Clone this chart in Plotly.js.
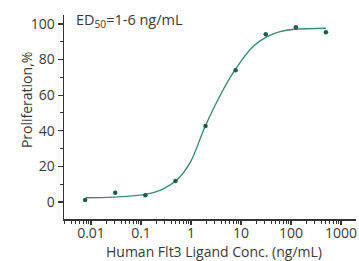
<!DOCTYPE html>
<html>
<head>
<meta charset="utf-8">
<script src="https://cdn.plot.ly/plotly-3.0.1.min.js"></script>
<style>html,body{margin:0;padding:0;background:#fff}#chart{width:359px;height:261px}</style>
</head>
<body>
<div id="chart"></div>
<script>
// Measured points
const concX = [0.00763, 0.0305, 0.122, 0.488, 1.95, 7.81, 31.25, 125, 500];
const prolifY = [1.1, 5.2, 3.9, 11.8, 42.7, 74.0, 94.2, 98.1, 95.3];
// Fitted curve
const curveX = [0.00783, 0.0275, 0.120, 0.275, 0.525, 0.955, 1.905, 4.37, 7.59, 17.4, 33.1, 60.3, 120, 501];
const curveY = [2.4, 2.8, 4.3, 7.3, 12.5, 22.0, 42.3, 62.9, 74.2, 87.3, 92.9, 95.7, 97.0, 97.6];
// Tick labels
const xTickVals = [0.01, 0.1, 1, 10, 100, 1000];
const xTickText = ['0.01', '0.1', '1', '10', '100', '1000'];
const yTickVals = [0, 20, 40, 60, 80, 100];

const FONT = 'Open Sans, sans-serif';
const TXT = '#3a3a3a';
const AX = '#333333';

const traces = [
  {x: curveX, y: curveY, type: 'scatter', mode: 'lines',
   line: {color: '#3a8a76', width: 1.4, shape: 'spline', smoothing: 1}, hoverinfo: 'skip'},
  {x: concX, y: prolifY, type: 'scatter', mode: 'markers',
   marker: {color: '#1f5c4c', size: 4.5}}
];

const layout = {
  width: 359, height: 261,
  margin: {l: 64, r: 3, t: 15, b: 42},
  paper_bgcolor: '#fff', plot_bgcolor: '#fff',
  showlegend: false,
  font: {family: FONT, color: TXT, size: 14},
  xaxis: {
    type: 'log', range: [-2.54, 3.3],
    tickmode: 'array', tickvals: xTickVals, ticktext: xTickText,
    ticks: 'outside', ticklen: 4, tickwidth: 1.2, tickcolor: AX,
    ticklabelstandoff: -3,
    minor: {ticks: 'outside', ticklen: 3, tickwidth: 1, tickcolor: AX, dtick: 'D1'},
    showline: true, linecolor: AX, linewidth: 1.5,
    showgrid: false, zeroline: false,
    tickfont: {family: FONT, size: 14, color: TXT}
  },
  yaxis: {
    range: [-9.5, 105],
    tickmode: 'array', tickvals: yTickVals,
    ticks: 'outside', ticklen: 5, tickwidth: 1.2, tickcolor: AX,
    minor: {ticks: 'outside', ticklen: 3, tickwidth: 1, tickcolor: AX, dtick: 10, tick0: 0},
    showline: true, linecolor: AX, linewidth: 1.5,
    showgrid: false, zeroline: false,
    tickfont: {family: FONT, size: 14, color: TXT}
  },
  annotations: [
    {xref: 'paper', yref: 'paper', x: 0.034, y: 0.975,
     xanchor: 'left', yanchor: 'middle', showarrow: false,
     text: 'ED<sub>50</sub>=1-6 ng/mL',
     font: {family: FONT, size: 14.5, color: TXT}},
    {xref: 'paper', yref: 'paper', x: 0.514, y: -0.158,
     xanchor: 'center', yanchor: 'middle', showarrow: false,
     text: 'Human Flt3 Ligand Conc. (ng/mL)',
     font: {family: FONT, size: 14, color: TXT}},
    {xref: 'paper', yref: 'paper', x: -0.130, y: 0.583,
     xanchor: 'center', yanchor: 'middle', showarrow: false, textangle: -90,
     text: 'Proliferation,%',
     font: {family: FONT, size: 14, color: TXT}}
  ]
};

Plotly.newPlot('chart', traces, layout, {staticPlot: true, displayModeBar: false});
</script>
</body>
</html>
